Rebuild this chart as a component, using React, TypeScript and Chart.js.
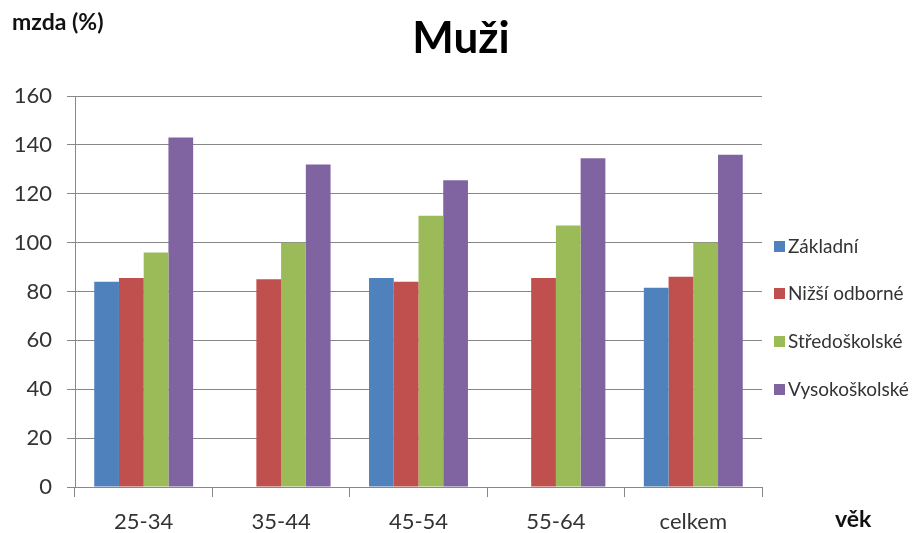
import React, { useEffect, useRef } from "react";
import { Chart, registerables } from "chart.js";

Chart.register(...registerables);

const categories = ["25-34", "35-44", "45-54", "55-64", "celkem"];
const seriesNames = ["Základní", "Nižší odborné", "Středoškolské", "Vysokoškolské"];
const zakladni: (number | null)[] = [84, null, 85.5, null, 81.5];
const nizsiOdborne = [85.5, 85, 84, 85.5, 86];
const stredoskolske = [96, 100, 111, 107, 100];
const vysokoskolske = [143, 132, 125.5, 134.5, 136];
const colors = ["#4F81BD", "#C0504D", "#9BBB59", "#8064A2"];
const yTicks = [0, 20, 40, 60, 80, 100, 120, 140, 160];

const FONT = "Lato, 'Open Sans', sans-serif";

const extrasPlugin = {
  id: "extras",
  afterDraw(chart: any) {
    const ctx = chart.ctx;
    ctx.save();
    ctx.textBaseline = "middle";
    ctx.fillStyle = "#000";
    ctx.textAlign = "center";
    ctx.font = `bold 44px ${FONT}`;
    ctx.fillText("Muži", 461, 39);
    ctx.fillStyle = "#111";
    ctx.textAlign = "left";
    ctx.font = `bold 23px ${FONT}`;
    ctx.fillText("mzda (%)", 12, 23);
    ctx.font = `bold 23px ${FONT}`;
    ctx.fillText("věk", 835, 520);
    // legend
    const ys = [246, 293, 341, 389];
    chart.data.datasets.forEach((ds: any, i: number) => {
      ctx.fillStyle = ds.backgroundColor;
      ctx.fillRect(774, ys[i] - 5, 11, 11);
      ctx.fillStyle = "#333";
      ctx.font = `19px ${FONT}`;
      ctx.fillText(ds.label, 788, ys[i] + 1);
    });
    ctx.restore();
  },
};

export default function App() {
  const ref = useRef<HTMLCanvasElement>(null);
  useEffect(() => {
    if (!ref.current) return;
    const data = [zakladni, nizsiOdborne, stredoskolske, vysokoskolske];
    const chart = new Chart(ref.current, {
      type: "bar",
      data: {
        labels: categories,
        datasets: seriesNames.map((name, i) => ({
          label: name,
          data: data[i],
          backgroundColor: colors[i],
          borderWidth: 0,
          categoryPercentage: 0.72,
          barPercentage: 1,
        })),
      },
      options: {
        animation: false,
        responsive: false,
        maintainAspectRatio: false,
        layout: { padding: { left: 0, right: 152, top: 96, bottom: 0 } },
        plugins: {
          legend: { display: false },
          tooltip: { enabled: false },
          title: { display: false },
        },
        scales: {
          x: {
            grid: {
              offset: true,
              drawOnChartArea: false,
              drawTicks: true,
              tickLength: 10,
              color: "#888",
            },
            border: { display: true, color: "#888" },
            ticks: {
              color: "#333",
              font: { family: FONT, size: 22 },
              padding: 12,
            },
            afterFit: (s: any) => {
              s.height = 46;
            },
          },
          y: {
            min: 0,
            max: 160,
            afterBuildTicks: (s: any) => {
              s.ticks = yTicks.map((v) => ({ value: v }));
            },
            grid: {
              color: "#888",
              drawTicks: true,
              tickLength: 8,
            },
            border: { display: true, color: "#888" },
            ticks: {
              color: "#333",
              font: { family: FONT, size: 22 },
              padding: 15,
            },
            afterFit: (s: any) => {
              s.width = 75;
            },
          },
        },
      },
      plugins: [extrasPlugin],
    });
    return () => chart.destroy();
  }, []);
  return (
    <div style={{ position: "fixed", left: 0, top: 0, width: 914, height: 533, background: "#fff" }}>
      <canvas ref={ref} width={914} height={533} style={{ display: "block" }} />
    </div>
  );
}
